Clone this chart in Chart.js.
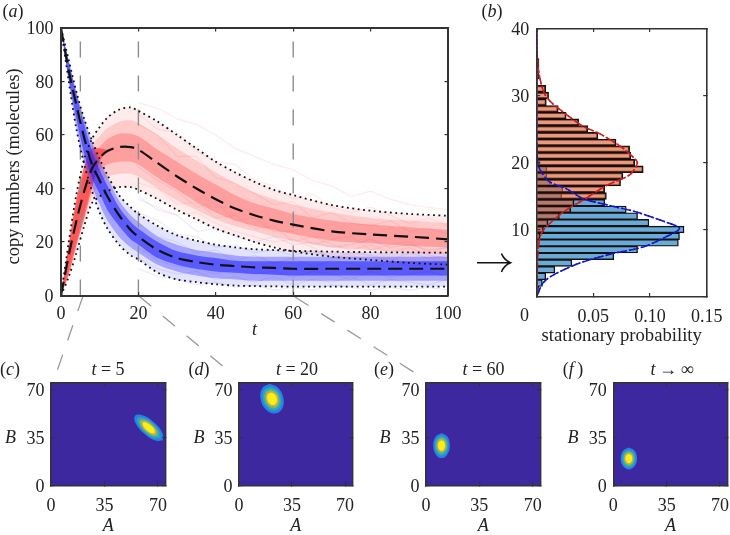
<!DOCTYPE html>
<html>
<head>
<meta charset="utf-8">
<script src="https://cdn.jsdelivr.net/npm/chart.js@4"></script>
<style>
    body { margin: 0; background: #fff; width: 730px; height: 535px; overflow: hidden; position: relative; }
    canvas { position: absolute; left: 0; top: 0; }
    svg { position: absolute; left: 0; top: 0; }
    .txt { position: absolute; transform: translate(-50%, -50%); white-space: nowrap; color: #222; font: 18px "Liberation Serif", serif; }
</style>
</head>
<body>
<svg width="730" height="535" fill="none">
    <g stroke="#999" stroke-width="1.3" stroke-dasharray="16 15">
        <line x1="83" y1="296" x2="56" y2="374"/>
        <line x1="139" y1="296" x2="231" y2="373"/>
        <line x1="295" y1="297" x2="423" y2="378"/>
    </g>
    <path d="M477 262.7H510M501.5 253.5Q504 260 510.5 262.7Q504 265.5 501.5 272" stroke="#111" stroke-width="1.6"/>
</svg>
<script>
    var tGrid = [0, 2, 4, 6, 8, 10, 12, 15, 18, 20, 25, 30, 35, 40, 45, 50, 55, 60, 70, 80, 90, 100];
    var redMean = [0, 15, 28, 39, 47.5, 51.5, 54, 55.5, 55.5, 54.5, 49.5, 44.5, 40, 36, 32.5, 30, 28, 26.5, 24, 22.8, 22, 21];
    var blueMean = [100, 84, 71, 59, 49, 43, 37, 30, 24.5, 22, 17, 14, 12.5, 11.5, 11, 10.5, 10.3, 10, 10, 10, 10, 10];
    var redHi = [0, 20, 38, 51, 58.5, 63, 66.5, 69.5, 70.3, 69, 65, 60, 55, 50, 46, 42.5, 39.5, 37.5, 33.8, 31.7, 30.5, 29.8];
    var redLo = [0, 7, 16, 26, 34.5, 37, 39, 40.5, 40.5, 39.5, 36, 32, 28.5, 25, 22.5, 20, 18, 16.5, 14.5, 13.3, 12.2, 11.5];
    var blueHi = [100, 88, 76, 66, 58, 51, 45, 37.5, 33, 30.5, 26, 22.5, 20.5, 19, 18, 17.3, 17, 16.7, 16.4, 16.2, 16.1, 16];
    var blueLo = [100, 80, 62, 49, 39, 31, 25, 19, 15, 13.5, 8.5, 6, 5, 4.2, 3.7, 3.5, 3.4, 3.3, 3.3, 3.3, 3.3, 3.3];
    var redMidHi = [0, 19, 36, 49, 56, 59.5, 62.5, 65, 65.5, 64.5, 60, 55, 50.5, 46, 42, 38.5, 36, 34, 31, 29, 28, 27];
    var redMidLo = [0, 8, 18, 28, 37, 42, 44.5, 45.5, 45.5, 44.5, 40, 35.5, 32, 28.5, 26, 24, 22, 20.5, 18, 17, 16, 15.5];
    var redCoreHi = [0, 18, 34, 46, 52, 55.5, 58.5, 60.5, 60.5, 59.5, 54.5, 50, 45.5, 41.5, 37.5, 34.5, 32.5, 30.5, 28, 26.5, 25.5, 24.5];
    var redCoreLo = [0, 10, 21, 31, 42, 47, 49, 50, 50, 49, 44, 39.5, 35, 31, 28, 26, 24.5, 23, 20.5, 19.5, 18.5, 18];
    // the rise before t = 10 is much denser than the rest of the red cloud
    var redEarlyHi = [0, 19, 36, 48, 55, 55, 54.5, 55.5, 55.5, 54.5, 49.5, 44.5, 40, 36, 32.5, 30, 28, 26.5, 24, 22.8, 22, 21];
    var redEarlyLo = [0, 8, 19, 29, 40, 50, 54, 55.5, 55.5, 54.5, 49.5, 44.5, 40, 36, 32.5, 30, 28, 26.5, 24, 22.8, 22, 21];
    var blueMidHi = [100, 88, 76, 66, 57, 50, 44, 35.5, 30, 27.5, 22, 19, 17, 16, 15, 14.5, 14.5, 14.5, 14.5, 14.5, 14.5, 14.5];
    var blueMidLo = [100, 80, 63, 50, 41, 34, 28, 22, 18, 16, 11.5, 9, 7.5, 6.5, 6, 5.5, 5.5, 5.5, 5.5, 5.5, 5.5, 5.5];
    var blueCoreHi = [100, 87, 75, 64, 54, 47, 41, 33, 27.5, 25, 20, 16.5, 15, 14, 13, 12.8, 12.8, 12.8, 12.8, 12.8, 12.8, 12.8];
    var blueCoreLo = [100, 81, 66, 53, 44, 38, 32, 26, 21, 19, 14, 11.5, 10, 9, 8.5, 8, 7.8, 7.5, 7.5, 7.5, 7.5, 7.5];

    // single runs that stick out of the bands
    var trackT = [20, 25, 30, 35, 40, 45, 50, 55, 60, 65, 70, 75, 80, 85, 90, 95, 100];
    var redTracks = [
        [72, 70, 66, 64, 60, 55, 52, 49, 47, 43, 41, 37, 39, 36, 34, 33, 32],
        [36, 33, 30, 31, 27, 24, 22, 20, 21, 18, 14, 15, 13, 14, 12, 11, 12],
        [68, 62, 61, 54, 50, 49, 43, 41, 36, 38, 33, 31, 33, 30, 27, 29, 26],
        [42, 40, 34, 35, 29, 30, 25, 26, 20, 22, 19, 17, 19, 16, 18, 15, 14],
        [64, 60, 52, 52, 44, 42, 38, 34, 35, 29, 31, 27, 26, 28, 24, 25, 23],
        [48, 43, 39, 33, 35, 28, 29, 24, 24, 19, 21, 22, 17, 19, 20, 16, 18]
    ];
    var blueTracks = [
        [37, 32, 30, 24, 25, 22, 20, 22, 19, 20, 18, 19, 21, 18, 19, 17, 18],
        [10, 7, 6, 4, 5, 3, 4, 2, 3, 2, 4, 3, 2, 3, 2, 3, 2],
        [31, 28, 23, 22, 18, 19, 16, 17, 15, 17, 14, 16, 15, 13, 16, 14, 15],
        [14, 10, 8, 9, 6, 7, 5, 7, 4, 6, 5, 7, 4, 6, 5, 4, 6],
        [27, 22, 20, 16, 17, 13, 15, 12, 14, 11, 13, 12, 10, 13, 11, 12, 13],
        [18, 13, 11, 10, 8, 10, 8, 9, 7, 9, 8, 6, 9, 7, 8, 9, 7]
    ];

    var snapshotTimes = [5, 20, 60];
    var guideTop = 95;

    // panel (b): histogram bins and the fitted curves
    var bins = [1, 2, 3, 4, 5, 6, 7, 8, 9, 10, 11, 12, 13, 14, 15, 16, 17, 18, 19, 20, 21, 22, 23, 24, 25, 26, 27, 28, 29, 30, 31, 32, 33, 34, 35];
    var blueBins = [.002, .005, .008, .016, .031, .068, .089, .125, .126, .13, .099, .089, .079, .06, .022, .023, .012, .009, .009, .003, .001, 0, 0, 0, 0, 0, 0, 0, 0, 0, 0, 0, 0, 0, 0];
    var redBins = [0, 0, 0, 0, 0, 0, 0, .001, .003, .006, .01, .02, .03, .033, .0615, .06, .074, .076, .094, .0865, .083, .082, .07, .054, .045, .037, .026, .019, .0085, .0105, .008, .001, .002, .002, .002];
    var redCurveY = [0, 3, 6.9, 9.4, 10.9, 12.9, 14.4, 16.6, 18.15, 19.7, 20.3, 22.3, 24.3, 25.3, 26.8, 29.8, 33.3, 36.8, 40];
    var redCurveP = [.0002, .0005, .0012, .004, .0115, .026, .041, .062, .082, .0885, .088, .0747, .0556, .042, .029, .0085, .002, .0003, 0];
    var blueCurveY = [0, 2, 3.2, 5, 6.4, 7.4, 8.9, 10.15, 11.1, 12.6, 13.6, 14.6, 16.1, 17.1, 18.6, 20, 25, 40];
    var blueCurveP = [0, .0055, .0145, .038, .067, .094, .114, .126, .114, .088, .064, .041, .026, .0115, .004, .001, 0, 0];

    // panels (c)-(f): outer contour (A, B) and centre of each peak
    var outlineC = [[73.2, 33], [72.8, 38.5], [67.3, 46.1], [59.9, 51.2], [54.9, 50.9], [55.3, 45.4], [60.8, 37.8], [68.2, 32.7]];
    var centreC = [64, 41.9];
    var outlineD = [[20.3, 74.2], [26.1, 71], [29.4, 63.3], [28.3, 55.6], [23.3, 52.4], [17.5, 55.6], [14.2, 63.3], [15.3, 71]];
    var centreD = [21.8, 63.3];
    var outlineE = [[10.2, 38.3], [14.05, 35.6], [15.65, 29.1], [14.05, 22.6], [10.2, 19.9], [6.35, 22.6], [4.75, 29.1], [6.35, 35.6]];
    var centreE = [10.2, 29.1];
    var outlineF = [[10.2, 27.6], [14, 25.3], [15.55, 19.6], [14, 13.9], [10.2, 11.6], [6.4, 13.9], [4.85, 19.6], [6.4, 25.3]];
    var centreF = [10.2, 19.6];
    var contourLevels = [1, .82, .66, .54, .42];
    var contourColors = ['#2b7de8', '#1fa9c4', '#63b87a', '#d9a93f', '#f8ee1a'];
    var densityBase = '#3d28a0';
    var densityMax = 75;

    var serif = '"Liberation Serif", serif';
    var axisColor = '#333';

    var pairs = (xs, ys) => xs.map((x, i) => ({ x: x, y: ys[i] }));

    var makeAxis = (min, max, step, width, pad, size) => ({
        type: 'linear', min: min, max: max, offset: false,
        ticks: { stepSize: step, autoSkip: false, maxRotation: 0, includeBounds: false, padding: pad, color: '#222', font: { family: serif, size: size } },
        grid: { drawOnChartArea: false, offset: false, tickLength: -3.5, tickColor: axisColor, lineWidth: 1.2, z: 1 },
        border: { color: axisColor, width: width, z: 1 }
    });

    var mirrorAxis = (axis, pos) => {
        var m = makeAxis(axis.min, axis.max, axis.ticks.stepSize, axis.border.width, 0, 10);
        m.position = pos;
        m.ticks.display = false;
        m.afterFit = s => { if (pos == 'top') s.height = 0; else s.width = 0; };
        return m;
    };

    var axisTitle = (text, style, size) => ({
        display: true, text: text, color: '#222', padding: 0,
        font: { family: serif, size: size || 18, style: style, lineHeight: 1 }
    });

    // area = [left, top, right, bottom] of the axes box on the page
    var makeChart = (area, xAxis, yAxis, yWidth, xHeight, datasets) => {
        var canvas = document.createElement('canvas');
        canvas.width = 730;
        canvas.height = 535;
        document.body.appendChild(canvas);
        xAxis.position = 'bottom';
        // label overhang must not shrink the box, it is placed by hand
        xAxis.afterFit = s => { s.height = xHeight; s.paddingLeft = 0; s.paddingRight = 0; };
        yAxis.position = 'left';
        yAxis.ticks.labelOffset = 1.5;
        yAxis.afterFit = s => { s.width = yWidth; s.paddingTop = 0; s.paddingBottom = 0; };
        // list is back to front, chart.js wants a higher order for what goes behind
        datasets.forEach((d, i) => { d.order = datasets.length - i; });
        return new Chart(canvas.getContext('2d'), {
            type: 'line',
            data: { datasets: datasets },
            options: {
                responsive: false,
                animation: false,
                events: [],
                layout: { padding: { left: area[0] - yWidth, top: area[1], right: 730 - area[2], bottom: 535 - area[3] - xHeight } },
                plugins: { legend: { display: false }, tooltip: { enabled: false } },
                elements: { point: { radius: 0 } },
                scales: { x: xAxis, y: yAxis, x2: mirrorAxis(xAxis, 'top'), y2: mirrorAxis(yAxis, 'right') }
            }
        });
    };

    var band = (hi, lo, color) => [
        { data: pairs(tGrid, hi), fill: '+1', backgroundColor: color, borderWidth: 0, tension: .3 },
        { data: pairs(tGrid, lo), fill: false, borderWidth: 0, tension: .3 }
    ];
    var track = (ys, color) => ({ data: pairs(trackT, ys), borderColor: color, borderWidth: 1.2, fill: false });
    var curve = (ys, dash, width) => ({ data: pairs(tGrid, ys), borderColor: '#111', borderWidth: width, borderDash: dash, fill: false, tension: .3 });
    var guide = t => ({ data: [{ x: t, y: 0 }, { x: t, y: guideTop }], borderColor: '#8c8c8c', borderWidth: 1.4, borderDash: [16, 18], fill: false });

    // panel (a)
    var xA = makeAxis(0, 100, 20, 2, 11.5, 18);
    xA.title = axisTitle('t', 'italic');
    var yA = makeAxis(0, 100, 20, 2, 11, 18);
    yA.title = axisTitle('copy numbers (molecules)  ', 'normal', 18.5);
    makeChart([61, 28, 448, 295.5], xA, yA, 56, 43.5, [].concat(
        redTracks.map(r => track(r, 'rgba(255,90,90,.12)')),
        band(redHi, redLo, 'rgba(255,70,70,.11)'),
        band(redMidHi, redMidLo, 'rgba(255,70,70,.2)'),
        band(redCoreHi, redCoreLo, 'rgba(255,60,60,.3)'),
        band(redEarlyHi, redEarlyLo, 'rgba(255,30,30,.55)'),
        blueTracks.map(r => track(r, 'rgba(90,90,255,.12)')),
        band(blueHi, blueLo, 'rgba(60,60,255,.14)'),
        band(blueMidHi, blueMidLo, 'rgba(50,50,255,.35)'),
        band(blueCoreHi, blueCoreLo, 'rgba(30,30,255,.55)'),
        snapshotTimes.map(guide),
        curve(redHi, [1.8, 3.6], 1.8), curve(redLo, [1.8, 3.6], 1.8),
        curve(blueHi, [1.8, 3.6], 1.8), curve(blueLo, [1.8, 3.6], 1.8),
        curve(redMean, [14, 7], 2.2), curve(blueMean, [14, 7], 2.2)
    ));

    // panel (b)
    var barSet = (vals, color) => ({
        type: 'bar', indexAxis: 'y', data: pairs(vals, bins), backgroundColor: color, borderColor: '#111', borderWidth: 1.4,
        barPercentage: 1, categoryPercentage: 1, grouped: false
    });
    var fit = (ps, ys, color, dash) => ({ indexAxis: 'y', data: pairs(ps, ys), borderColor: color, borderWidth: 1.5, borderDash: dash, fill: false, tension: .3 });
    var xB = makeAxis(0, .15, .05, 1.6, 13, 18);
    xB.ticks.callback = v => (v == 0 ? '' : v.toFixed(2));
    xB.title = axisTitle('stationary probability', 'normal', 18.7);
    var yB = makeAxis(0, 40, 10, 1.6, 11, 18);
    yB.ticks.callback = v => (v == 0 ? '' : v);
    makeChart([536.7, 28.5, 706.7, 296.5], xB, yB, 40, 48.5, [
        barSet(blueBins, 'rgb(105,170,215)'),
        barSet(redBins, 'rgba(220,100,60,.65)'),
        fit(redCurveP, redCurveY, '#d01c1c', [2, 2]),
        fit(blueCurveP, blueCurveY, '#1616c8', [2, 2]),
        fit(redCurveP, redCurveY, '#d01c1c', [9, 3]),
        fit(blueCurveP, blueCurveY, '#1616c8', [9, 3])
    ]);

    // panels (c)-(f)
    var densityPanel = (area, outline, centre) => {
        var xP = makeAxis(0, densityMax, 35, 1.4, 14, 18);
        xP.title = axisTitle('A', 'italic');
        var yP = makeAxis(0, densityMax, 35, 1.4, 10, 18);
        var sets = [{
            data: pairs([0, densityMax, densityMax, 0], [0, 0, densityMax, densityMax]),
            fill: 'shape', backgroundColor: densityBase, borderWidth: 0
        }];
        contourLevels.forEach((k, i) => {
            var ring = outline.concat([outline[0]]);
            sets.push({
                data: ring.map(p => ({ x: centre[0] + (p[0] - centre[0]) * k, y: centre[1] + (p[1] - centre[1]) * k })),
                fill: 'shape', backgroundColor: contourColors[i], borderWidth: 0, tension: .4
            });
        });
        makeChart(area, xP, yP, 30, 49.7, sets);
    };
    densityPanel([51, 382.7, 165.7, 485.3], outlineC, centreC);
    densityPanel([239, 382.7, 352.7, 485.3], outlineD, centreD);
    densityPanel([426, 382.7, 540.3, 485.3], outlineE, centreE);
    densityPanel([613.3, 382.7, 727.7, 485.3], outlineF, centreF);

    // text that is not on a scale
    var put = (html, x, y) => {
        var d = document.createElement('div');
        d.className = 'txt';
        d.innerHTML = html;
        d.style.left = x + 'px';
        d.style.top = y + 'px';
        document.body.appendChild(d);
    };
    put('(<i>a</i>)', 13, 11);
    put('(<i>b</i>)', 492, 11);
    put('(<i>c</i>)', 10, 369);
    put('(<i>d</i>)', 199, 369);
    put('(<i>e</i>)', 384, 369);
    put('(<i>f</i>\u2009)', 573, 369);
    put('<i>t</i> = 5', 108, 369);
    put('<i>t</i> = 20', 297, 369);
    put('<i>t</i> = 60', 483.5, 369);
    put('<i>t</i>\u2009\u2192\u2009\u221e', 672, 369);
    put('<i>B</i>', 10.5, 437);
    put('<i>B</i>', 199, 437);
    put('<i>B</i>', 385, 437);
    put('<i>B</i>', 573, 437);
    put('0', 524.5, 315);
</script>
</body>
</html>
